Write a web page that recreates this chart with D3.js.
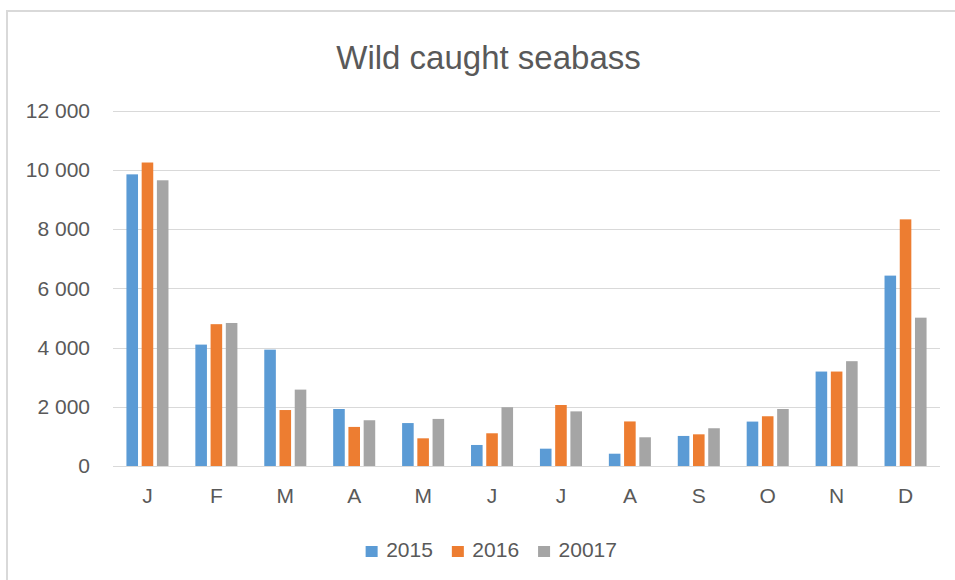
<!DOCTYPE html>
<html>
<head>
<meta charset="utf-8">
<script src="https://cdn.jsdelivr.net/npm/d3@7"></script>
<style>
  html, body { margin: 0; padding: 0; background: #fff; }
  svg { display: block; }
  text { font-family: "Liberation Sans", Arial, sans-serif; fill: #595959; }
</style>
</head>
<body>
<svg id="chart" width="955" height="580"></svg>
<script>
const title = "Wild caught seabass";
const months = ["J", "F", "M", "A", "M", "J", "J", "A", "S", "O", "N", "D"];
const seriesNames = ["2015", "2016", "20017"];
const values2015 = [9850, 4100, 3930, 1925, 1450, 710, 585, 415, 1015, 1500, 3190, 6430];
const values2016 = [10250, 4790, 1890, 1320, 935, 1105, 2060, 1505, 1070, 1680, 3190, 8330];
const values20017 = [9650, 4830, 2580, 1545, 1590, 1985, 1845, 970, 1275, 1925, 3540, 5010];
const yTicks = [0, 2000, 4000, 6000, 8000, 10000, 12000];
const colors = ["#5b9bd5", "#ed7d31", "#a5a5a5"];

const seriesValues = [values2015, values2016, values20017];
const data = months.map((m, i) => ({
  idx: i,
  month: m,
  vals: seriesNames.map((s, k) => ({ key: s, value: seriesValues[k][i], color: colors[k] }))
}));

const svg = d3.select("#chart");

// outer chart border (right/bottom cropped)
svg.append("rect")
  .attr("x", 7).attr("y", 11)
  .attr("width", 1000).attr("height", 1000)
  .attr("fill", "#fff")
  .attr("stroke", "#d9d9d9").attr("stroke-width", 2);

const plot = { left: 113, right: 940, top: 110.7, bottom: 466 };

const x0 = d3.scaleBand()
  .domain(d3.range(months.length))
  .range([plot.left, plot.right])
  .paddingInner(0.39)
  .paddingOuter(0.195);

const x1 = d3.scaleBand()
  .domain(seriesNames)
  .range([0, x0.bandwidth()])
  .paddingInner(0.24);

const y = d3.scaleLinear().domain([0, 12000]).range([plot.bottom, plot.top]);

const locale = d3.formatLocale({ decimal: ",", thousands: "\u00a0", grouping: [3], currency: ["", ""] });
const fmt = locale.format(",d");

// gridlines
svg.append("g")
  .selectAll("line")
  .data(yTicks)
  .join("line")
  .attr("x1", plot.left).attr("x2", plot.right)
  .attr("y1", d => Math.round(y(d)) + 0.5).attr("y2", d => Math.round(y(d)) + 0.5)
  .attr("stroke", "#d9d9d9").attr("stroke-width", 1);

// y axis labels
const yAxis = d3.axisLeft(y).tickValues(yTicks).tickFormat(fmt).tickSize(0).tickPadding(0);
const gy = svg.append("g").attr("transform", `translate(90,0)`).call(yAxis);
gy.select(".domain").remove();
gy.selectAll("text")
  .attr("font-size", 21)
  .attr("font-family", "Liberation Sans, Arial, sans-serif")
  .attr("fill", "#595959");

// bars
const groups = svg.append("g")
  .selectAll("g")
  .data(data)
  .join("g")
  .attr("transform", d => `translate(${x0(d.idx)},0)`);

groups.selectAll("rect")
  .data(d => d.vals)
  .join("rect")
  .attr("x", d => x1(d.key))
  .attr("width", x1.bandwidth())
  .attr("y", d => y(d.value))
  .attr("height", d => y(0) - y(d.value))
  .attr("fill", d => d.color);

// x axis labels
const xAxis = d3.axisBottom(x0).tickFormat(i => months[i]).tickSize(0).tickPadding(0);
const gx = svg.append("g").attr("transform", `translate(0,${plot.bottom})`).call(xAxis);
gx.select(".domain").remove();
gx.selectAll("text")
  .attr("font-size", 21)
  .attr("font-family", "Liberation Sans, Arial, sans-serif")
  .attr("fill", "#595959")
  .attr("dy", null)
  .attr("y", 37);

// title
svg.append("text")
  .attr("x", 488.5).attr("y", 69)
  .attr("text-anchor", "middle")
  .attr("font-size", 33)
  .text(title);

// legend
const legend = svg.append("g");
let cx = 0;
const items = seriesNames.map((s, k) => {
  const g = legend.append("g");
  g.append("rect").attr("x", 0).attr("y", -11).attr("width", 12).attr("height", 11).attr("fill", colors[k]);
  const t = g.append("text").attr("x", 20.5).attr("y", 0).attr("font-size", 21).text(s);
  const w = 20.5 + t.node().getComputedTextLength();
  g.attr("transform", `translate(${cx},0)`);
  cx += w + 19;
  return w;
});
const totalW = cx - 19;
legend.attr("transform", `translate(${491.3 - totalW / 2},557)`);
</script>
</body>
</html>
